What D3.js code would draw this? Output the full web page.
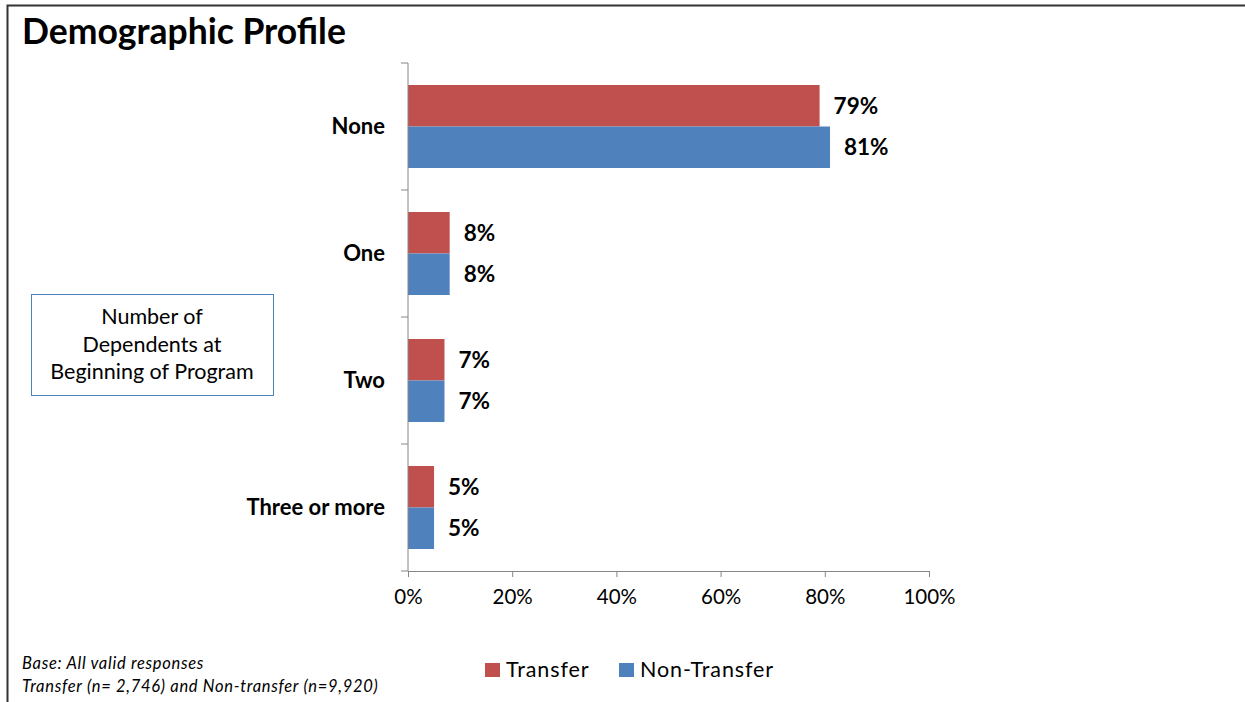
<!DOCTYPE html>
<html lang="en">
<head>
    <meta charset="utf-8">
    <title>Demographic Profile</title>
    <style>
        body { margin: 0; background: #fff; }
        svg { display: block; font-family: Lato, "Open Sans", sans-serif; }
    </style>
</head>
<body>
    <svg id="chart" width="1245" height="702"></svg>
    <script src="https://cdn.jsdelivr.net/npm/d3@7"></script>
    <script>
        var categories = ["None", "One", "Two", "Three or more"];
        var seriesNames = ["Transfer", "Non-Transfer"];
        var transfer = [79, 8, 7, 5];
        var nonTransfer = [81, 8, 7, 5];
        var xTicks = [0, 20, 40, 60, 80, 100];
        var colors = ["#c0504d", "#4f81bd"];

        var svg = d3.select("#chart");

        // page frame
        svg.append("path")
            .attr("d", "M7.5,702 V5.5 H1245")
            .attr("fill", "none")
            .attr("stroke", "#333")
            .attr("stroke-width", 2);

        svg.append("text")
            .attr("x", 22)
            .attr("y", 44)
            .attr("font-size", 35.5)
            .attr("font-weight", "bold")
            .text("Demographic Profile");

        var x = d3.scaleLinear().domain([0, 100]).range([408, 929]);
        var y = d3.scaleBand().domain(categories).range([63, 571]);
        var inner = d3.scaleBand().domain(seriesNames).range([22, y.bandwidth() - 22]);

        var data = categories.map(function(c, i) {
            return { cat: c, values: [transfer[i], nonTransfer[i]] };
        });

        var groups = svg.selectAll("g.cat")
            .data(data)
            .enter()
            .append("g")
            .attr("class", "cat")
            .attr("transform", function(d) { return "translate(0," + y(d.cat) + ")"; });

        groups.selectAll("rect")
            .data(function(d) { return d.values; })
            .enter()
            .append("rect")
            .attr("x", x(0))
            .attr("y", function(d, i) { return inner(seriesNames[i]); })
            .attr("width", function(d) { return x(d) - x(0); })
            .attr("height", inner.bandwidth())
            .attr("fill", function(d, i) { return colors[i]; });

        groups.selectAll("text.val")
            .data(function(d) { return d.values; })
            .enter()
            .append("text")
            .attr("class", "val")
            .attr("x", function(d) { return x(d) + 14; })
            .attr("y", function(d, i) { return inner(seriesNames[i]) + inner.bandwidth() / 2; })
            .attr("dy", "0.35em")
            .attr("font-size", 22.5)
            .attr("font-weight", "bold")
            .text(function(d) { return d + "%"; });

        // y axis: line + boundary ticks
        var yAxis = svg.append("g");
        yAxis.append("line")
            .attr("x1", x(0)).attr("x2", x(0))
            .attr("y1", y.range()[0]).attr("y2", y.range()[1])
            .attr("stroke", "#868686");
        yAxis.selectAll("line.tk")
            .data(categories.concat(["end"]))
            .enter()
            .append("line")
            .attr("class", "tk")
            .attr("x1", x(0) - 7).attr("x2", x(0))
            .attr("y1", function(d, i) { return y.range()[0] + i * y.step(); })
            .attr("y2", function(d, i) { return y.range()[0] + i * y.step(); })
            .attr("stroke", "#868686");
        yAxis.selectAll("text")
            .data(categories)
            .enter()
            .append("text")
            .attr("x", 385)
            .attr("y", function(d) { return y(d) + y.bandwidth() / 2; })
            .attr("dy", "0.35em")
            .attr("text-anchor", "end")
            .attr("font-size", 22)
            .attr("font-weight", "bold")
            .text(function(d) { return d; });

        // x axis
        var xAxis = svg.append("g")
            .attr("transform", "translate(0," + y.range()[1] + ")")
            .call(d3.axisBottom(x).tickValues(xTicks)
                .tickFormat(function(d) { return d + "%"; })
                .tickSize(6).tickSizeOuter(0).tickPadding(12));
        xAxis.select(".domain").attr("stroke", "#868686");
        xAxis.selectAll(".tick line").attr("stroke", "#868686");
        xAxis.selectAll(".tick text")
            .attr("font-size", 20.5)
            .attr("font-family", "Lato, sans-serif")
            .attr("fill", "#000");

        // text box
        svg.append("rect")
            .attr("x", 31.5).attr("y", 294.5)
            .attr("width", 242).attr("height", 101)
            .attr("fill", "#fff")
            .attr("stroke", "#4f81bd");
        svg.append("text")
            .attr("text-anchor", "middle")
            .attr("font-size", 21.5)
            .selectAll("tspan")
            .data(["Number of", "Dependents at", "Beginning of Program"])
            .enter()
            .append("tspan")
            .attr("x", 152)
            .attr("y", function(d, i) { return 324 + i * 27.5; })
            .text(function(d) { return d; });

        // footnote
        svg.append("text")
            .attr("font-size", 16.5)
            .attr("font-style", "italic")
            .attr("letter-spacing", 0.7)
            .selectAll("tspan")
            .data(["Base:  All valid responses", "Transfer (n= 2,746) and Non-transfer (n=9,920)"])
            .enter()
            .append("tspan")
            .attr("x", 22)
            .attr("y", function(d, i) { return 669 + i * 23; })
            .text(function(d) { return d; });

        // legend
        var legendX = [485, 619];
        var legend = svg.selectAll("g.leg")
            .data(seriesNames)
            .enter()
            .append("g")
            .attr("class", "leg")
            .attr("transform", function(d, i) { return "translate(" + legendX[i] + ",663)"; });
        legend.append("rect")
            .attr("width", 15).attr("height", 14)
            .attr("fill", function(d, i) { return colors[i]; });
        legend.append("text")
            .attr("x", 21)
            .attr("y", 14)
            .attr("font-size", 21.5)
            .attr("letter-spacing", 0.9)
            .text(function(d) { return d; });
    </script>
</body>
</html>
